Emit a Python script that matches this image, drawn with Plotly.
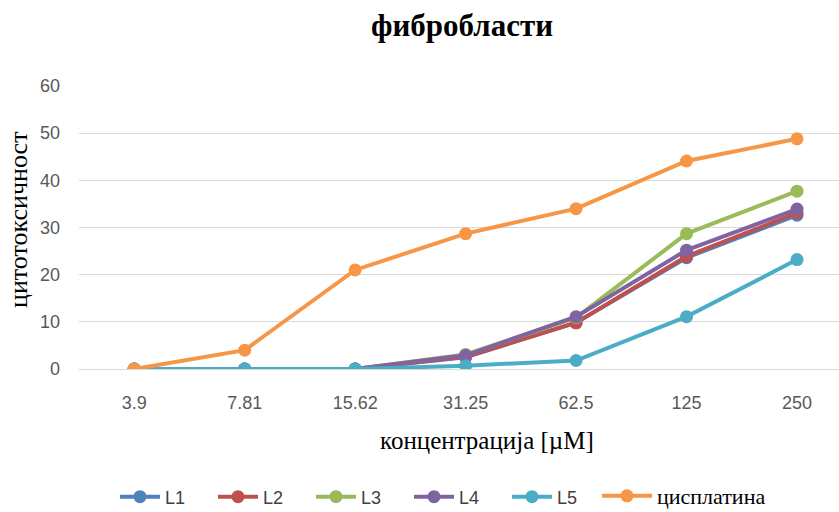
import plotly.graph_objects as go

categories = ["3.9", "7.81", "15.62", "31.25", "62.5", "125", "250"]
L1 = [0, 0, 0, 2.5, 9.8, 23.6, 32.6]
L2 = [0, 0, 0, 2.6, 9.8, 23.9, 33.1]
L3 = [0, 0, 0, 3.1, 10.9, 28.7, 37.7]
L4 = [0, 0, 0, 2.9, 11.1, 25.2, 33.9]
L5 = [0, 0, 0, 0.7, 1.8, 11.1, 23.2]
cisplatin = [0, 4.0, 21.0, 28.7, 34.0, 44.1, 48.8]

series = [
    ("L1", L1, "#4F81BD", "legend"),
    ("L2", L2, "#C0504D", "legend"),
    ("L3", L3, "#9BBB59", "legend"),
    ("L4", L4, "#8064A2", "legend"),
    ("L5", L5, "#4BACC6", "legend"),
    ("цисплатина", cisplatin, "#F79646", "legend2"),
]

W, H = 839, 512
L_M, T_M, B_M = 79, 86, 143
plot_h = H - T_M - B_M
plot_w = W - L_M

def px_x(px):
    return (px - L_M) / plot_w

def px_y(py):
    return (H - B_M - py) / plot_h

fig = go.Figure()
for name, vals, color, leg in series:
    fig.add_trace(go.Scatter(
        x=categories, y=vals, name=name, mode="lines+markers",
        line=dict(color=color, width=4),
        marker=dict(color=color, size=13),
        legend=leg,
    ))

fig.add_annotation(text="<b>фибробласти</b>", xref="paper", yref="paper",
                   x=px_x(462), y=px_y(25), xanchor="center", yanchor="middle",
                   showarrow=False,
                   font=dict(family="Liberation Serif", size=31, color="black"))
fig.add_annotation(text="концентрација [µM]", xref="paper", yref="paper",
                   x=px_x(487), y=px_y(440), xanchor="center", yanchor="middle",
                   showarrow=False,
                   font=dict(family="Liberation Serif", size=25, color="black"))
fig.add_annotation(text="цитотоксичност", xref="paper", yref="paper",
                   x=px_x(18), y=px_y(220), xanchor="center", yanchor="middle",
                   textangle=-90, showarrow=False,
                   font=dict(family="Liberation Serif", size=26, color="black"))

fig.update_layout(
    width=W, height=H,
    margin=dict(l=L_M, r=0, t=T_M, b=B_M, autoexpand=False),
    paper_bgcolor="white", plot_bgcolor="white",
    xaxis=dict(type="category", range=[-0.5, 6.38], showgrid=False, automargin=False,
               showline=True, linecolor="#d9d9d9", linewidth=1,
               tickfont=dict(family="Liberation Sans", size=18, color="#595959"),
               ticks="", ticklabelstandoff=17),
    yaxis=dict(range=[0, 60], dtick=10, showgrid=True, gridcolor="#d9d9d9", gridwidth=1,
               zeroline=False, showline=False, automargin=False,
               tickfont=dict(family="Liberation Sans", size=18, color="#595959"),
               ticklabelstandoff=18),
    legend=dict(orientation="h", xref="container", yref="container",
                x=115 / W, xanchor="left", y=1 - 497 / H, yanchor="middle",
                font=dict(family="Liberation Sans", size=18, color="#404040"),
                entrywidth=43, entrywidthmode="pixels",
                itemwidth=40, traceorder="normal", bgcolor="rgba(0,0,0,0)"),
    legend2=dict(orientation="h", xref="container", yref="container",
                 x=597 / W, xanchor="left", y=1 - 496 / H, yanchor="middle",
                 font=dict(family="Liberation Serif", size=22, color="#000000"),
                 itemwidth=50, bgcolor="rgba(0,0,0,0)"),
    showlegend=True,
)

fig.write_html("out.html", config={"displayModeBar": False},
               post_script="document.body.style.margin='0';document.body.style.padding='0';")
